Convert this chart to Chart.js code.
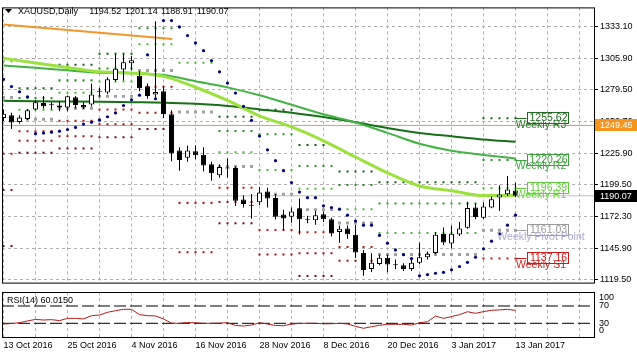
<!DOCTYPE html>
<html><head><meta charset="utf-8">
<script src="https://cdn.jsdelivr.net/npm/chart.js@4.4.1/dist/chart.umd.min.js"></script>
<style>
html,body{margin:0;padding:0;background:#fff;}
#wrap{position:relative;width:637px;height:358px;overflow:hidden;background:#fff;}
#main{position:absolute;left:0;top:0;}
#rsi{position:absolute;left:0;top:290px;}
</style></head><body>
<div id="wrap">
<canvas id="main" width="637" height="290"></canvas>
<canvas id="rsi" width="637" height="68"></canvas>
</div>
<script>
// ---------------- DATA ----------------
const symbol = 'XAUUSD';
const timeframe = 'Daily';
const dates = ['13 Oct 2016','14 Oct 2016','17 Oct 2016','18 Oct 2016','19 Oct 2016','20 Oct 2016','21 Oct 2016',
 '24 Oct 2016','25 Oct 2016','26 Oct 2016','27 Oct 2016','28 Oct 2016','31 Oct 2016','1 Nov 2016','2 Nov 2016',
 '3 Nov 2016','4 Nov 2016','7 Nov 2016','8 Nov 2016','9 Nov 2016','10 Nov 2016','11 Nov 2016','14 Nov 2016',
 '15 Nov 2016','16 Nov 2016','17 Nov 2016','18 Nov 2016','21 Nov 2016','22 Nov 2016','23 Nov 2016','24 Nov 2016',
 '25 Nov 2016','28 Nov 2016','29 Nov 2016','30 Nov 2016','1 Dec 2016','2 Dec 2016','5 Dec 2016','6 Dec 2016',
 '7 Dec 2016','8 Dec 2016','9 Dec 2016','12 Dec 2016','13 Dec 2016','14 Dec 2016','15 Dec 2016','16 Dec 2016',
 '19 Dec 2016','20 Dec 2016','21 Dec 2016','22 Dec 2016','23 Dec 2016','27 Dec 2016','28 Dec 2016','29 Dec 2016',
 '30 Dec 2016','3 Jan 2017','4 Jan 2017','5 Jan 2017','6 Jan 2017','9 Jan 2017','10 Jan 2017','11 Jan 2017',
 '12 Jan 2017','13 Jan 2017'];

const open  = [1255.7,1258.1,1252.4,1254.9,1263.0,1268.3,1267.3,1264.6,1264.6,1273.2,1266.8,1267.1,1278.0,1277.2,1287.9,1296.7,1302.0,1291.4,1282.5,1275.6,1278.4,1258.9,1228.3,1222.1,1227.7,1224.8,1216.7,1207.4,1213.9,1213.5,1186.9,1182.4,1184.6,1193.6,1188.3,1174.2,1172.4,1179.6,1170.7,1169.4,1174.5,1170.2,1159.5,1162.5,1157.2,1141.8,1128.2,1132.5,1137.7,1132.0,1131.4,1128.2,1133.6,1138.2,1141.8,1158.0,1149.9,1157.4,1163.1,1180.2,1171.6,1180.2,1188.7,1191.3,1194.52];
const high  = [1263.0,1260.2,1258.1,1263.4,1270.7,1274.4,1269.1,1269.9,1274.8,1274.4,1269.1,1284.9,1281.3,1290.2,1309.3,1309.3,1308.1,1295.1,1284.9,1337.5,1282.5,1262.2,1231.1,1232.6,1232.6,1231.1,1218.8,1216.7,1221.6,1214.9,1190.5,1191.5,1197.6,1196.8,1191.5,1178.3,1180.2,1187.7,1173.3,1177.3,1176.9,1171.5,1165.1,1165.1,1165.5,1144.4,1141.6,1140.4,1140.4,1136.3,1133.1,1135.9,1150.5,1143.0,1159.5,1163.4,1164.7,1168.0,1185.0,1183.7,1184.6,1189.5,1198.9,1206.7,1201.14];
const low   = [1253.3,1246.5,1250.8,1254.1,1262.2,1263.8,1263.0,1261.4,1261.4,1263.8,1263.4,1265.4,1273.6,1275.8,1286.6,1287.4,1295.9,1278.4,1271.9,1271.0,1255.7,1219.2,1211.3,1218.9,1221.0,1210.6,1202.7,1205.4,1205.4,1181.5,1180.2,1170.8,1182.4,1180.2,1170.0,1160.7,1167.4,1157.4,1166.8,1165.6,1168.0,1155.8,1150.5,1153.9,1137.5,1122.5,1125.8,1131.4,1125.5,1128.2,1126.6,1126.6,1132.3,1136.3,1140.8,1148.5,1145.8,1156.1,1162.3,1170.2,1170.4,1179.6,1177.3,1189.9,1188.91];
const close = [1259.4,1252.0,1256.1,1262.2,1269.1,1265.7,1266.5,1266.2,1274.0,1266.7,1264.6,1275.6,1278.4,1288.4,1297.4,1302.8,1304.4,1280.9,1274.4,1277.6,1258.9,1225.7,1220.2,1228.3,1224.3,1215.7,1209.0,1214.3,1213.1,1185.9,1183.2,1181.6,1192.8,1187.7,1172.4,1171.0,1176.9,1170.2,1169.9,1173.7,1170.2,1158.2,1162.3,1157.7,1142.3,1127.4,1133.6,1137.7,1132.0,1131.4,1128.2,1133.6,1138.2,1141.2,1157.2,1150.7,1158.0,1162.5,1179.8,1172.1,1181.0,1187.2,1191.1,1195.4,1190.07];

// Parabolic SAR (one dot per bar)
const sar = [1288.4,1282.3,1277.9,1273.6,1242.5,1243.0,1243.8,1244.6,1246.0,1247.8,1250.6,1252.2,1254.1,1256.8,1260.0,1266.3,1271.1,1275.0,1309.1,1272.0,1338.0,1338.0,1332.6,1325.3,1319.1,1312.6,1304.2,1294.7,1285.2,1276.8,1265.5,1253.8,1240.5,1228.9,1219.7,1211.3,1201.3,1193.2,1188.5,1188.5,1181.6,1180.2,1178.8,1173.7,1168.8,1165.3,1165.3,1156.6,1150.1,1144.4,1140.4,1137.1,1122.5,1123.6,1124.7,1125.5,1127.6,1130.4,1133.9,1138.2,1145.3,1151.8,1158.0,1165.3,1173.7];

// Moving averages, read every 4 bars
const maIdx  = [0,4,8,12,16,20,24,28,32,36,40,44,48,52,56,60,64];
const maFast = [1306.1,1302.2,1298.4,1294.7,1293.8,1290.9,1281.7,1270.6,1257.5,1248.2,1236.5,1222.8,1209.4,1198.4,1194.4,1190.3,1190.5];
const maMid  = [1300.1,1298.1,1296.0,1293.9,1293.5,1292.0,1286.8,1281.6,1274.9,1266.9,1258.9,1252.0,1243.2,1234.0,1228.1,1224.6,1221.6];
const maSlow = [1270.3,1269.9,1269.7,1269.5,1269.1,1268.7,1267.7,1265.9,1263.0,1260.2,1256.5,1252.1,1247.3,1243.1,1240.3,1237.6,1235.6];

// Weekly pivot segments (bar index ranges) and levels
const pivotStart = [0,2,7,12,17,22,27,32,37,42,47,60];
const pivotEnd   = [1,6,11,16,21,26,31,36,41,46,59,64];
const pivotP  = [1273.0,1254.6,1263.9,1274.0,1295.8,1260.8,1214.8,1191.3,1178.4,1167.2,1140.5,1161.03];
const pivotR1 = [1303.6,1262.7,1277.1,1286.5,1317.9,1302.4,1226.8,1211.9,1196.1,1178.7,1158.6,1196.39];
const pivotR2 = [1351.0,1272.7,1287.5,1297.5,1331.5,1379.1,1244.7,1242.1,1215.3,1199.1,1183.5,1220.26];
const pivotR3 = [1381.6,1280.8,1300.7,1310.0,1353.6,1420.7,1256.7,1262.7,1233.0,1210.6,1201.6,1255.62];
const pivotS1 = [1225.6,1244.6,1253.5,1263.0,1282.2,1184.1,1196.9,1161.1,1159.2,1146.8,1115.6,1137.16];
const pivotS2 = [1195.0,1236.5,1240.3,1250.5,1260.1,1142.5,1184.9,1140.5,1141.5,1135.3,1097.5,1101.80];
const pivotS3 = [1147.6,1226.5,1229.9,1239.5,1246.5,1065.8,1167.0,1110.3,1122.3,1114.9,1072.6,1077.93];
const pivotNames = ['Weekly R3','Weekly R2','Weekly R1','Weekly Pivot Point','Weekly S1'];

// Drawn objects
const trendIdx = [0, 21.1];
const trendVal = [1334.7, 1322.5];
const levelLine = 1249.45;

// Price axis ticks
const priceTicks = [1333.10,1305.90,1279.50,1252.70,1225.90,1199.50,1172.30,1145.90,1119.50];

// RSI(14)
const rsiPeriod = 14;
const rsi = [28.4,29.5,31.5,35.5,39.0,37.6,38.5,36.2,41.5,41.5,40.0,47.5,49.3,55.4,59.1,62.3,62.3,50.0,47.6,47.0,40.0,30.3,30.0,31.8,31.2,30.0,30.0,30.5,31.4,25.0,23.8,26.0,31.4,28.4,25.0,24.5,28.0,30.0,30.0,30.0,29.0,29.0,30.0,28.5,23.0,18.5,22.2,25.5,27.7,27.7,27.7,26.0,31.4,33.7,46.5,41.5,45.5,50.0,56.8,53.1,57.0,60.0,61.0,62.3,60.015];
const rsiLevels = [70, 30];
const rsiTicks = [100, 70, 30, 0];

// ---------------- LAYOUT CONSTANTS ----------------
const X_MIN = -0.1875, X_MAX = 73.8125;
const P_MIN = 1116.8, P_MAX = 1349.1;
const FONT = '"Liberation Sans", Arial, sans-serif';
const GRID = '#b0b0b0';
const xTickVals = [];
for (let v = 0; v <= 72; v += 4) xTickVals.push(v);

const last = close.length - 1;
const n = close.length;
const idx = Array.from({length: n}, (_, i) => i);

function pts(vals, xs) { return vals.map((v, k) => ({x: xs ? xs[k] : k, y: v})); }
function pivotPts(levels) {
  const out = [];
  levels.forEach((lv, s) => {
    for (let i = pivotStart[s]; i <= pivotEnd[s]; i++) out.push({x: i, y: lv});
  });
  return out;
}
function dots(label, data, color, r, order) {
  return {type: 'line', label, data, showLine: false, pointStyle: 'rect', pointRadius: r,
    pointBackgroundColor: color, pointBorderWidth: 0, pointHoverRadius: r, order};
}

const xScaleBase = {
  type: 'linear', min: X_MIN, max: X_MAX, offset: false,
  afterBuildTicks: s => { s.ticks = xTickVals.map(v => ({value: v})); },
  grid: {color: GRID, drawTicks: false, offset: false, borderDash: [3, 3]},
  border: {display: false, dash: [3, 3]},
};

// ---------------- MAIN CHART ----------------
const mainDeco = {
  id: 'mainDeco',
  afterDraw(chart) {
    const {ctx, chartArea: a, scales: {x, y}} = chart;
    ctx.save();
    // frame
    ctx.strokeStyle = '#000'; ctx.lineWidth = 1; ctx.setLineDash([]);
    ctx.strokeRect(a.left + 0.5, a.top + 0.5, a.right - a.left, a.bottom - a.top);

    // header
    ctx.fillStyle = '#000';
    ctx.beginPath(); ctx.moveTo(5, 9); ctx.lineTo(12, 9); ctx.lineTo(8.5, 13); ctx.closePath(); ctx.fill();
    ctx.font = '9px ' + FONT; ctx.textBaseline = 'middle'; ctx.textAlign = 'left';
    ctx.fillText(symbol + ',' + timeframe, 18, 11.5);
    const hdr = [open[last], high[last], low[last], close[last]];
    hdr.forEach((v, k) => ctx.fillText(v.toFixed(2), 89.3 + k * 35.8, 11.5));

    // current-week pivot labels
    const cw = pivotP.length - 1;
    const lv = [pivotR3[cw], pivotR2[cw], pivotR1[cw], pivotP[cw], pivotS1[cw]];
    const boxCol = ['#1f6a1f', '#3a9e3a', '#62cc3a', '#9a9a9a', '#d01818'];
    const txtCol = ['#2a7a2a', '#3fa83f', '#6ad43f', '#aaaacc', '#d02020'];
    const lx = x.getPixelForValue(pivotEnd[cw]);
    lv.forEach((v, k) => {
      const py = y.getPixelForValue(v);
      if (py < a.top || py > a.bottom) return;
      const yy = Math.round(py) + 0.5;
      ctx.strokeStyle = boxCol[k]; ctx.lineWidth = 1;
      ctx.beginPath(); ctx.moveTo(lx, yy); ctx.lineTo(lx + 11, yy); ctx.stroke();
      const bx = Math.round(lx + 11) + 0.5, by = Math.round(py - 6) + 0.5;
      ctx.fillStyle = '#fff'; ctx.fillRect(bx, by, 41, 11);
      ctx.strokeRect(bx, by, 41, 11);
      ctx.font = '10.5px ' + FONT; ctx.textAlign = 'center'; ctx.textBaseline = 'middle';
      ctx.fillStyle = boxCol[k]; ctx.fillText(v.toFixed(2), bx + 21, by + 6);
      ctx.fillStyle = txtCol[k]; ctx.fillText(pivotNames[k], 541, py + 6.5);
    });

    // right axis price boxes
    const box = (v, bg) => {
      const py = Math.round(y.getPixelForValue(v));
      ctx.fillStyle = bg; ctx.fillRect(595, py - 6, 42, 12);
      ctx.fillStyle = '#fff'; ctx.font = '9px ' + FONT; ctx.textAlign = 'left'; ctx.textBaseline = 'middle';
      ctx.fillText(v.toFixed(2), 600, py + 0.5);
    };
    box(levelLine, '#f7941d');
    box(close[last], '#000');
    ctx.restore();
  }
};

const candleColors = idx.map(i => close[i] >= open[i] ? '#ffffff' : '#000000');

new Chart(document.getElementById('main'), {
  type: 'line',
  data: {
    datasets: [
      {type: 'bar', label: 'body', data: idx.map(i => ({x: i, y: [open[i], close[i]]})),
        backgroundColor: candleColors, borderColor: '#000', borderWidth: 1, borderSkipped: false,
        barThickness: 5, grouped: false, minBarLength: 1, inflateAmount: 0, order: 0},
      {type: 'bar', label: 'wick', data: idx.map(i => ({x: i, y: [low[i], high[i]]})),
        backgroundColor: '#000', borderWidth: 0, barThickness: 1, grouped: false, inflateAmount: 0, order: 1},
      {label: 'SAR', data: pts(sar), showLine: false, pointStyle: 'circle', pointRadius: 1.6,
        pointBackgroundColor: '#00007a', pointBorderWidth: 0, order: 2},
      {label: 'MA fast', data: pts(maFast, maIdx), borderColor: '#9be23e', borderWidth: 3, pointRadius: 0,
        cubicInterpolationMode: 'monotone', order: 3},
      {label: 'MA mid', data: pts(maMid, maIdx), borderColor: '#44b344', borderWidth: 2, pointRadius: 0,
        cubicInterpolationMode: 'monotone', order: 4},
      {label: 'MA slow', data: pts(maSlow, maIdx), borderColor: '#167016', borderWidth: 2, pointRadius: 0,
        cubicInterpolationMode: 'monotone', order: 5},
      {label: 'trend', data: pts(trendVal, trendIdx), borderColor: '#f0962c', borderWidth: 2, pointRadius: 0, order: 3},
      dots('P', pivotPts(pivotP), '#a0a0a0', 2.1, 6),
      dots('R1', pivotPts(pivotR1), '#52b83a', 1.42, 7),
      dots('R2', pivotPts(pivotR2), '#2e8e2e', 1.42, 8),
      dots('R3', pivotPts(pivotR3), '#1d5a1d', 1.42, 9),
      dots('S1', pivotPts(pivotS1), '#b81818', 1.42, 10),
      dots('S2', pivotPts(pivotS2), '#8e1a1a', 1.42, 11),
      dots('S3', pivotPts(pivotS3), '#6a1212', 1.42, 12),
      {label: 'level', data: [{x: X_MIN, y: levelLine}, {x: X_MAX, y: levelLine}], borderColor: '#f39a32',
        borderWidth: 1, pointRadius: 0, order: 13},
      {label: 'bid', data: [{x: X_MIN, y: close[last]}, {x: X_MAX, y: close[last]}], borderColor: '#c0c0c0',
        borderWidth: 1, pointRadius: 0, order: 14},
    ]
  },
  options: {
    responsive: false, animation: false, devicePixelRatio: 1, events: [],
    layout: {padding: {left: 2, top: 3, right: 0, bottom: 1}, autoPadding: false},
    plugins: {legend: {display: false}, tooltip: {enabled: false}, title: {display: false}},
    scales: {
      x: Object.assign({}, xScaleBase, {
        ticks: {display: false},
        afterFit: s => { s.height = 0; }
      }),
      y: {
        type: 'linear', position: 'right', min: P_MIN, max: P_MAX,
        afterBuildTicks: s => { s.ticks = priceTicks.map(v => ({value: v})); },
        afterFit: s => { s.width = 43; },
        ticks: {callback: v => v.toFixed(2), color: '#000', font: {family: FONT, size: 9}, padding: 2},
        grid: {color: GRID, drawTicks: true, tickLength: 4, tickColor: '#000', tickBorderDash: [], borderDash: [3, 3]},
        border: {display: false, dash: [3, 3]}
      }
    }
  },
  plugins: [mainDeco]
});

// ---------------- RSI CHART ----------------
const rsiDeco = {
  id: 'rsiDeco',
  afterDraw(chart) {
    const {ctx, chartArea: a, scales: {y}} = chart;
    ctx.save();
    ctx.strokeStyle = '#000'; ctx.lineWidth = 1; ctx.setLineDash([]);
    ctx.strokeRect(a.left + 0.5, a.top + 0.5, a.right - a.left, a.bottom - a.top);
    ctx.fillStyle = '#000'; ctx.font = '9px ' + FONT; ctx.textBaseline = 'middle'; ctx.textAlign = 'left';
    ctx.fillText('RSI(' + rsiPeriod + ') ' + rsi[last].toFixed(4), 7, 10.5);
    rsiTicks.forEach(v => {
      let py = y.getPixelForValue(v);
      py = Math.min(Math.max(py, a.top + 6), a.bottom - 6);
      ctx.fillText(String(v), 599, py);
    });
    ctx.restore();
  }
};

new Chart(document.getElementById('rsi'), {
  type: 'line',
  data: {
    datasets: [
      {label: 'RSI', data: pts(rsi), borderColor: '#b01c1c', borderWidth: 1, pointRadius: 0, tension: 0, order: 0},
      ...rsiLevels.map((lv, k) => ({label: 'lvl' + lv, data: [{x: X_MIN, y: lv}, {x: X_MAX, y: lv}],
        borderColor: '#000', borderWidth: 1, borderDash: [12, 4], pointRadius: 0, order: 1 + k}))
    ]
  },
  options: {
    responsive: false, animation: false, devicePixelRatio: 1, events: [],
    layout: {padding: {left: 2, top: 2, right: 0, bottom: 0}, autoPadding: false},
    plugins: {legend: {display: false}, tooltip: {enabled: false}},
    scales: {
      x: Object.assign({}, xScaleBase, {
        ticks: {display: true, autoSkip: false, maxRotation: 0, minRotation: 0, align: 'start', padding: 3,
          color: '#000', font: {family: FONT, size: 9},
          callback: v => (v % 8 === 0 && v <= last) ? dates[v] : ''},
        afterFit: s => { s.height = 21; }
      }),
      y: {
        type: 'linear', position: 'right', min: -1.6, max: 102.3,
        ticks: {display: false}, grid: {display: false}, border: {display: false},
        afterFit: s => { s.width = 43; }
      }
    }
  },
  plugins: [rsiDeco]
});
</script></body></html>
